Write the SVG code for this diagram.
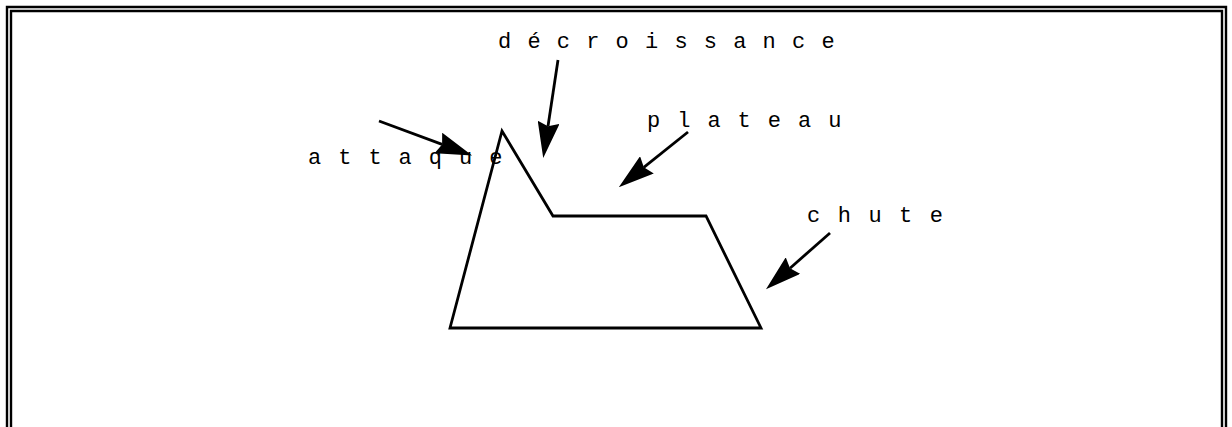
<svg xmlns="http://www.w3.org/2000/svg" width="1232" height="427" viewBox="0 0 1232 427">
<style>
.frame{fill:none;stroke:#000;stroke-width:2.4}
.env{fill:none;stroke:#000;stroke-width:2.8;stroke-linejoin:miter}
.arr{fill:none;stroke:#000;stroke-width:2.8;marker-end:url(#ah)}
.lbl{font-family:"Liberation Mono","Courier New",monospace;font-size:22px;fill:#000}
</style>
<defs>
<marker id="ah" markerUnits="userSpaceOnUse" viewBox="0 0 36 22" markerWidth="36" markerHeight="22" refX="4" refY="11" orient="auto">
<path d="M0,0 L36,11 L0,22 L4,11 z" fill="#000"/>
</marker>
</defs>
<rect width="1232" height="427" fill="#fff"/>
<g id="frame">
<path class="frame" d="M7,427 V7 H1226 V427"/>
<path class="frame" d="M11,427 V11 H1222 V427"/>
</g>
<g id="envelope">
<path class="env" d="M450,328 L502,131 L553,216 L706,216 L761,328 Z"/>
</g>
<g id="labels">
<text id="attaque" class="lbl" x="308" y="164" letter-spacing="17.0">attaque</text>
<text id="decroissance" class="lbl" x="498" y="48" letter-spacing="16.2">décroissance</text>
<text id="plateau" class="lbl" x="647" y="127" letter-spacing="17.0">plateau</text>
<text id="chute" class="lbl" x="807" y="222" letter-spacing="17.5">chute</text>
</g>
<g id="connectors">
<line class="arr" x1="379" y1="121" x2="442.1" y2="144.4"/>
<line class="arr" x1="558" y1="60" x2="548" y2="126.3"/>
<line class="arr" x1="688" y1="132" x2="643.8" y2="167.3"/>
<line class="arr" x1="830" y1="233" x2="790" y2="268.2"/>
</g>
</svg>
